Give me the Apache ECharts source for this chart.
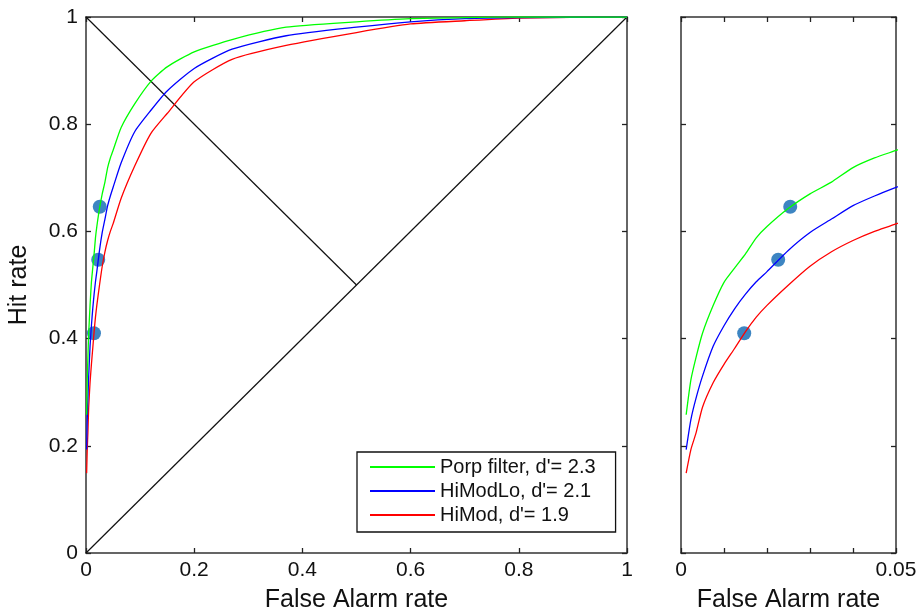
<!DOCTYPE html>
<html>
<head>
<meta charset="utf-8">
<script src="https://cdn.jsdelivr.net/npm/echarts@6/dist/echarts.min.js"></script>
<style>
  html, body { margin: 0; padding: 0; background: #fff; }
  #chart { width: 920px; height: 615px; }
</style>
</head>
<body>
<div id="chart"></div>
<script>
// 虚警率采样点
var falseAlarm = [0.0012, 0.0023, 0.0035, 0.005, 0.0075, 0.01, 0.0125, 0.015, 0.0175, 0.02, 0.025, 0.03,
  0.035, 0.04, 0.045, 0.05, 0.065, 0.09, 0.12, 0.15, 0.2, 0.27, 0.37, 0.5, 0.6, 0.7, 0.8, 1];
// 各条 ROC 曲线的击中率
var hitPorp = [0.258, 0.323, 0.365, 0.41, 0.462, 0.505, 0.532, 0.558, 0.588, 0.609, 0.643, 0.67,
  0.692, 0.719, 0.737, 0.751, 0.794, 0.838, 0.88, 0.907, 0.935, 0.958, 0.981, 0.991, 0.997, 0.999, 1, 1];
var hitHiModLo = [0.193, 0.249, 0.289, 0.33, 0.386, 0.424, 0.456, 0.483, 0.506, 0.525, 0.565, 0.598,
  0.623, 0.648, 0.666, 0.682, 0.728, 0.786, 0.826, 0.862, 0.904, 0.94, 0.965, 0.981, 0.991, 0.997, 0.999, 1];
var hitHiMod = [0.149, 0.193, 0.224, 0.272, 0.318, 0.352, 0.382, 0.413, 0.44, 0.462, 0.5, 0.535,
  0.562, 0.583, 0.6, 0.614, 0.662, 0.722, 0.783, 0.82, 0.879, 0.921, 0.947, 0.971, 0.987, 0.993, 0.998, 1];
// 实测点
var obsFA = [0.0254, 0.0226, 0.0147];
var obsHit = [0.646, 0.547, 0.41];
// 参考线
var chanceLine = [[0, 0], [1, 1]];
var minorDiag = [[0, 1], [0.5, 0.5]];

var names = ["Porp filter, d'= 2.3", "HiModLo, d'= 2.1", "HiMod, d'= 1.9"];
var colors = ["#00ff00", "#0000ff", "#ff0000"];
var hits = [hitPorp, hitHiModLo, hitHiMod];

function pairs(xs, ys) {
  return xs.map(function (x, i) { return [x, ys[i]]; });
}

var myChart = echarts.init(document.getElementById("chart"));

var font = "Liberation Sans, Arial, sans-serif";
var tickStyle = { inside: true, length: 5, lineStyle: { color: "#222", width: 1.3 } };
var axLine = { onZero: false, lineStyle: { color: "#333", width: 1.5 } };

function xAx(grid, interval, max, fmt, pos, name) {
  return {
    type: "value", gridIndex: grid, min: 0, max: max, interval: interval, position: pos,
    axisLine: axLine, axisTick: tickStyle, splitLine: { show: false },
    axisLabel: { show: pos === "bottom", color: "#111", fontSize: 21, fontFamily: font, margin: 7, formatter: fmt },
    name: pos === "bottom" ? name : "", nameLocation: "middle", nameGap: 35,
    nameTextStyle: { color: "#111", fontSize: 25, fontFamily: font }
  };
}
function yAx(grid, showLabel, pos, name) {
  return {
    type: "value", gridIndex: grid, min: 0, max: 1, interval: 0.2, position: pos,
    axisLine: axLine, axisTick: tickStyle, splitLine: { show: false },
    axisLabel: { show: showLabel, color: "#111", fontSize: 21, fontFamily: font, margin: 8 },
    name: name, nameLocation: "middle", nameGap: 54,
    nameTextStyle: { color: "#111", fontSize: 25, fontFamily: font }
  };
}

var series = [];
// 参考线
[chanceLine, minorDiag].forEach(function (d) {
  series.push({
    type: "line", xAxisIndex: 0, yAxisIndex: 0, data: d, symbol: "none", silent: true,
    lineStyle: { color: "#111", width: 1.2 }
  });
});
// 曲线（红、蓝、绿顺序叠放，绿在最上）
[2, 1, 0].forEach(function (k) {
  [0, 2].forEach(function (ax) {
    series.push({
      name: names[k], type: "line", xAxisIndex: ax, yAxisIndex: ax,
      data: pairs(falseAlarm, hits[k]), symbol: "none", smooth: 0.2,
      lineStyle: { color: colors[k], width: 1.3 }, itemStyle: { color: colors[k] }
    });
  });
});
// 实测点
[0, 2].forEach(function (ax) {
  series.push({
    type: "scatter", xAxisIndex: ax, yAxisIndex: ax, data: pairs(obsFA, obsHit),
    symbolSize: 14, itemStyle: { color: "#0c66b3" }
  });
});

var option = {
  animation: false,
  backgroundColor: "#fff",
  grid: [
    { left: 86, top: 17, width: 541, height: 536, show: false, outerBoundsMode: "none" },
    { left: 681, top: 17, width: 215, height: 536, show: false, outerBoundsMode: "none" }
  ],
  legend: {
    data: names,
    orient: "vertical",
    left: 357, top: 452,
    padding: [5, 20, 7, 13],
    itemGap: 4,
    itemWidth: 65, itemHeight: 2,
    icon: "rect",
    borderColor: "#111", borderWidth: 1.3, backgroundColor: "#fff",
    textStyle: { color: "#111", fontSize: 20, fontFamily: font }
  },
  xAxis: [
    xAx(0, 0.2, 1, null, "bottom", "False Alarm rate"),
    xAx(0, 0.2, 1, null, "top", ""),
    xAx(1, 0.01, 0.05, function (v) { return v === 0 ? "0" : (Math.abs(v - 0.05) < 1e-9 ? "0.05" : ""); }, "bottom", "False Alarm rate"),
    xAx(1, 0.01, 0.05, null, "top", "")
  ],
  yAxis: [
    yAx(0, true, "left", "Hit rate"),
    yAx(0, false, "right", ""),
    yAx(1, false, "left", ""),
    yAx(1, false, "right", "")
  ],
  series: series
};

myChart.setOption(option);
</script>
</body>
</html>
